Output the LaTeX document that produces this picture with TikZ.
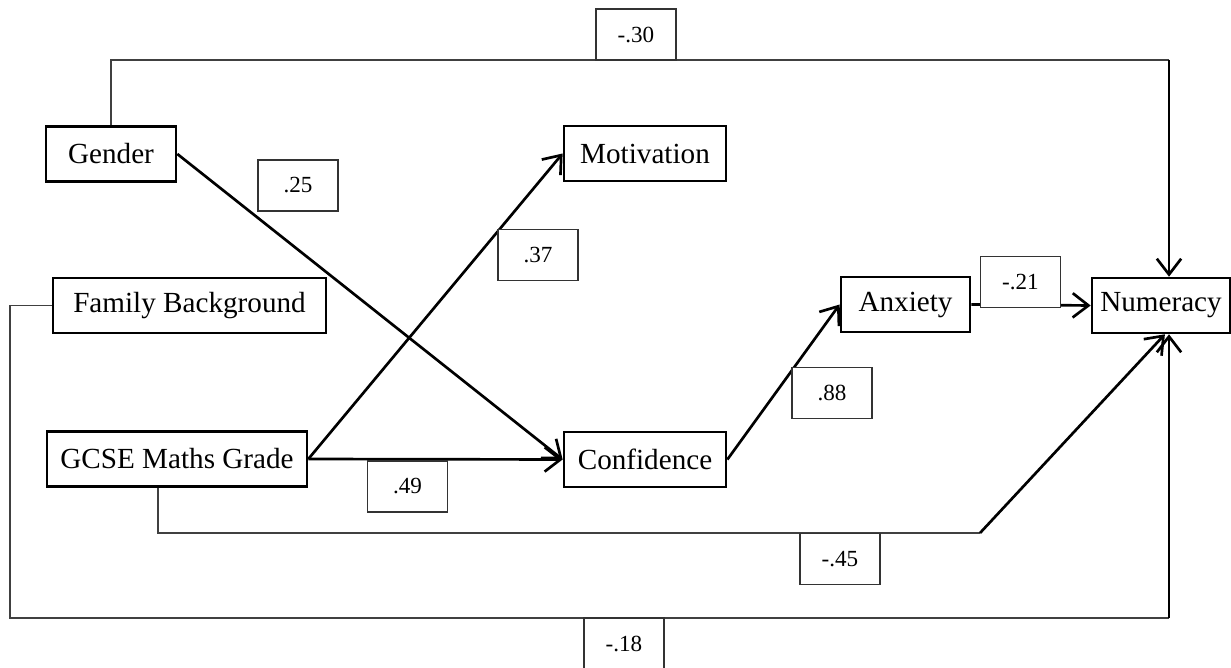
\documentclass[tikz,border=0pt]{standalone}
\usepackage{fontspec}
\setmainfont{Liberation Serif}
\usepackage{tikz}
\usetikzlibrary{positioning}
\usetikzlibrary{arrows.meta}

\begin{document}
\begin{tikzpicture}[x=0.4115pt, y=-0.4115pt,
    var/.style={draw, line width=1.1pt, minimum height=22.6pt, inner sep=0pt, font=\fontsize{12pt}{14pt}\selectfont},
    coef/.style={draw, black!80, text=black, fill=white, line width=0.5pt, minimum width=32.9pt, minimum height=21pt, inner sep=0pt, font=\fontsize{9.5pt}{11pt}\selectfont},
    flecha/.style={-{Straight Barb[length=6.5pt, width=10pt]}, line width=1.1pt},
    linea/.style={black!75, line width=0.55pt}]
            \clip (0,0) rectangle (1231,668);
            % Nodos
            \node[var, minimum width=53.5pt] (Gender) at (111,154) {Gender};
            \node[var, minimum width=112.3pt] (Family) at (189.5,305.5) {Family Background};
            \node[var, minimum width=107pt] (GCSE) at (177,459) {GCSE Maths Grade};
            \node[var, minimum width=66.7pt] (Motivation) at (645,153.5) {Motivation};
            \node[var, minimum width=66.7pt] (Confidence) at (645,459.5) {Confidence};
            \node[var, minimum width=53.1pt] (Anxiety) at (905.5,304.5) {Anxiety};
            \node[var, minimum width=56.8pt] (Numeracy) at (1161,305.5) {Numeracy};

            % Puntos de giro
            \coordinate (arriba) at (1169,60);
            \coordinate (izq) at (10,618);
            \coordinate (abajo) at (1169,618);
            \coordinate (giro) at (158,533);
            \coordinate (codo) at (980,533);

            % Aristas
            \draw[flecha] (Gender.east) -- (Confidence.west);
            \draw[flecha] (GCSE.east) -- (Motivation.west);
            \draw[flecha] (GCSE.east) -- (Confidence.west);
            \draw[flecha] (Confidence.east) -- (Anxiety.west);
            \draw[flecha] (Anxiety.east) -- (Numeracy.west);
            \draw[linea] (Gender.north) |- (arriba);
            \draw[flecha] (arriba) -- (arriba |- Numeracy.north);
            \draw[linea] (Family.west) -| (izq) -- (abajo);
            \draw[flecha] (abajo) -- (abajo |- Numeracy.south);
            \draw[linea] (giro |- GCSE.south) -- (giro) -- (codo);
            \draw[flecha] (codo) -- ([xshift=1.6pt]Numeracy.south);

            % Coeficientes
            \node[coef] (c30) at (636,34.5) {-.30};
            \node[coef] (c25) at (298,185.5) {.25};
            \node[coef] (c37) at (538,255) {.37};
            \node[coef] (c21) at (1020.5,282) {-.21};
            \node[coef] (c88) at (832,393) {.88};
            \node[coef] (c49) at (407.5,486.5) {.49};
            \node[coef] (c45) at (840,559) {-.45};
            \node[coef] (c18) at (624,643.5) {-.18};
          \end{tikzpicture}
\end{document}
